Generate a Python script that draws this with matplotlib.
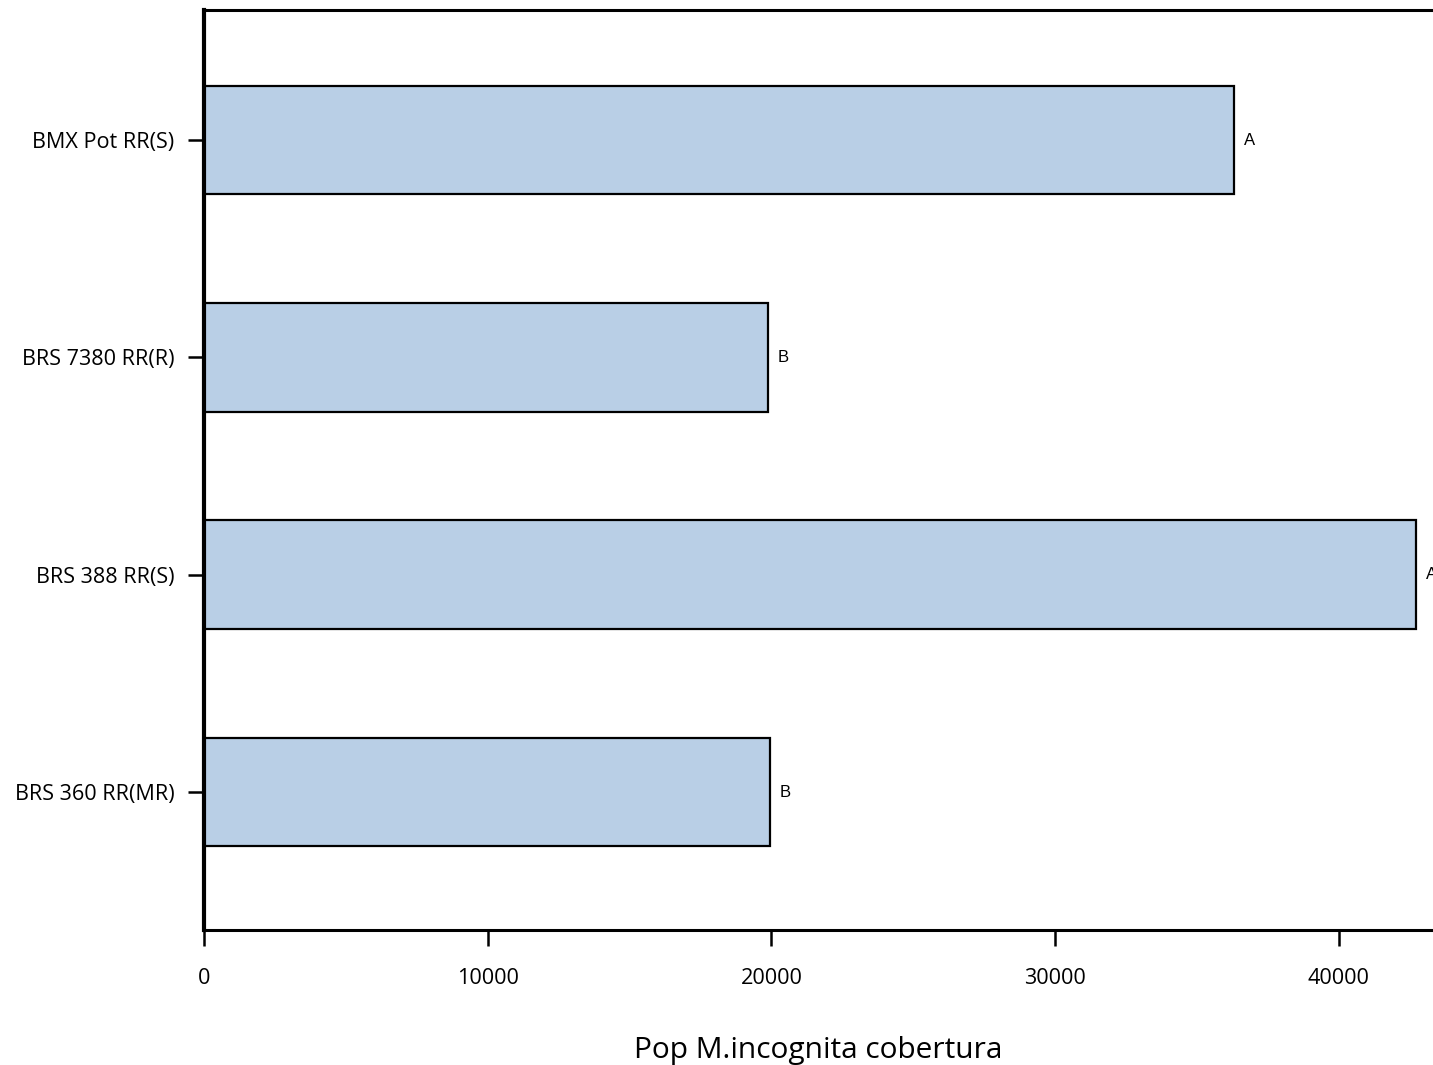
import matplotlib
matplotlib.use("Agg")
import matplotlib.pyplot as plt
import numpy as np

# data (bottom to top)
cultivars = ["BRS 360 RR(MR)", "BRS 388 RR(S)", "BRS 7380 RR(R)", "BMX Pot RR(S)"]
pop = [19950, 42720, 19880, 36300]
letters = ["B", "A", "B", "A"]
xticks = [0, 10000, 20000, 30000, 40000]

plt.rcParams['font.family'] = ['Open Sans', 'DejaVu Sans']

fig = plt.figure(figsize=(14.33, 10.65), dpi=100)
ax = fig.add_axes([0.1424, 0.1268, 0.8576, 0.8638])

y = np.arange(len(cultivars))
ax.barh(y, pop, height=0.5, color='#b9cfe6', edgecolor='black', linewidth=1.6)
for yi, v, l in zip(y, pop, letters):
    ax.annotate(l, (v, yi), xytext=(7, 0), textcoords='offset points',
                va='center', ha='left', fontsize=12, family='Liberation Sans')

ax.set_xlim(0, 43320)
ax.set_ylim(-0.634, 3.598)
ax.set_yticks(y)
ax.set_yticklabels(cultivars, fontsize=15.6)
ax.set_xticks(xticks)
ax.set_xticklabels([str(t) for t in xticks], fontsize=15.6)
ax.tick_params(axis='x', length=11.5, width=1.8, pad=16)
ax.tick_params(axis='y', length=11.5, width=1.8, pad=10)
ax.set_xlabel("Pop M.incognita cobertura", fontsize=21.5, labelpad=34)

ax.spines['right'].set_visible(False)
ax.spines['left'].set_linewidth(3)
ax.spines['top'].set_linewidth(2.2)
ax.spines['bottom'].set_linewidth(2.2)

fig.savefig("out.png", dpi=100)
